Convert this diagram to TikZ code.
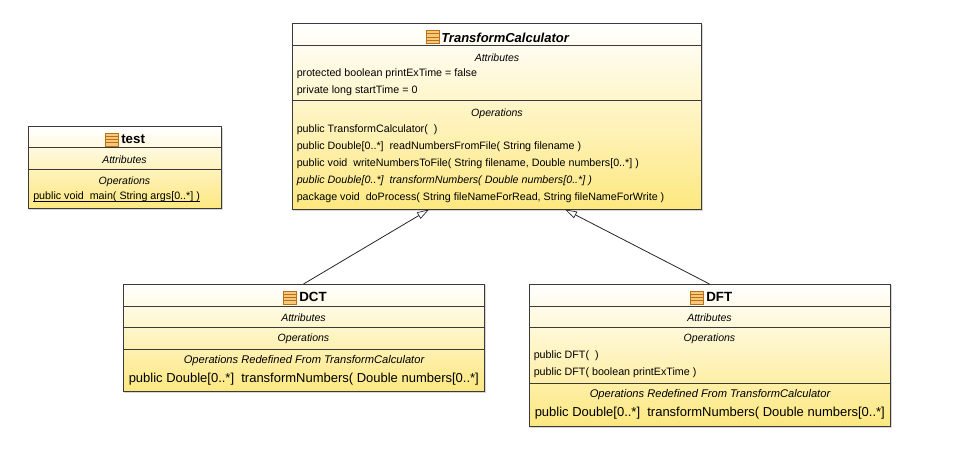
\documentclass[tikz,border=0pt]{standalone}
\usepackage{fontspec}
\setmainfont{Liberation Sans}
\usetikzlibrary{arrows.meta}
\definecolor{umlEdge}{HTML}{3A3A3A}
\definecolor{umlTop}{HTML}{FFFFFF}
\definecolor{umlBot}{HTML}{FDE880}
\definecolor{iconFill}{HTML}{F6C878}
\definecolor{iconEdge}{HTML}{B8701C}
\pgfdeclareverticalshading{umlgrad}{100bp}{color(0bp)=(umlBot); color(25bp)=(umlBot); color(75bp)=(umlTop); color(100bp)=(umlTop)}
\newcommand{\umlicon}[1]{%
  \begin{scope}[shift={(#1)}]
    \fill[iconFill] (0,0) rectangle (13,13);
    \draw[iconEdge,line width=.45pt] (0,3.3)--(13,3.3) (0,6.5)--(13,6.5) (0,9.7)--(13,9.7);
    \draw[iconEdge,line width=.7pt] (0,0) rectangle (13,13);
  \end{scope}}
\tikzset{
  x=0.75pt,y=-0.75pt,
  sep/.style={draw=umlEdge,line width=.75pt},
  shadowline/.style={draw=black!16,line width=.9pt},
  head/.style={font=\fontsize{10pt}{12pt}\selectfont\bfseries,anchor=west,inner sep=0pt},
  headi/.style={font=\fontsize{9.75pt}{12pt}\selectfont\bfseries\itshape,anchor=west,inner sep=0pt},
  comp/.style={font=\fontsize{7.9pt}{9pt}\selectfont\itshape,inner sep=0pt},
  compw/.style={font=\fontsize{8.35pt}{9pt}\selectfont\itshape,inner sep=0pt},
  item/.style={font=\fontsize{8.03pt}{9pt}\selectfont,anchor=west,inner sep=0pt},
  itemi/.style={font=\fontsize{8.03pt}{9pt}\selectfont\itshape,anchor=west,inner sep=0pt},
  big/.style={font=\fontsize{9.74pt}{11pt}\selectfont,anchor=west,inner sep=0pt},
  genarrow/.style={draw=black!85,line width=.6pt,-{Triangle[open,fill=white,length=9pt,width=5.5pt,line width=.5pt]}},
}
\newcommand{\umlpanel}[5]{% name, x0,y0,x1,y1
  \draw[shadowline] (#2+1,#5+1)--(#4+1,#5+1)--(#4+1,#3+1);
  \path[shading=umlgrad] (#2,#3) rectangle (#4,#5);
  \draw[sep] (#2,#3) rectangle (#4,#5);
  \coordinate (#1) at ({(#2+#4)/2},#3);
}
\begin{document}
\begin{tikzpicture}
\useasboundingbox (0,0) rectangle (956,456);
\fill[white] (0,0) rectangle (956,456);

% TransformCalculator
\umlpanel{tc}{292}{24}{701}{209}
\draw[sep] (292,46)--(701,46) (292,101)--(701,101);
\umlicon{426,30.5}
\node[headi] (tcname) at (441,37.5) {TransformCalculator};
\node[comp] (tcattr) at (497,58) {Attributes};
\node[item] (tca1) at (296.5,73.3) {protected boolean printExTime = false};
\node[item] (tca2) at (296.5,90.3) {private long startTime = 0};
\node[comp] (tcops) at (497,114) {Operations};
\node[item] (tco1) at (296.5,129.3) {public TransformCalculator(\ \ )};
\node[item] (tco2) at (296.5,146.3) {public Double[0..*]\ \ readNumbersFromFile( String filename )};
\node[item] (tco3) at (296.5,163.3) {public void\ \ writeNumbersToFile( String filename, Double numbers[0..*] )};
\node[itemi] (tco4) at (296.5,180.3) {public Double[0..*]\ \ transformNumbers( Double numbers[0..*] )};
\node[item] (tco5) at (296.5,197.3) {package void\ \ doProcess( String fileNameForRead, String fileNameForWrite )};
\coordinate (tcL) at (429,209.5);
\coordinate (tcR) at (565,209.5);

% test
\umlpanel{te}{28}{127}{221}{208}
\draw[sep] (28,148)--(221,148) (28,170)--(221,170);
\umlicon{105,133}
\node[head] (tename) at (121,139.5) {test};
\node[comp] (teattr) at (124.5,160) {Attributes};
\node[comp] (teops) at (124.5,182) {Operations};
\node[item] (teo1) at (33,197) {public void\ \ main( String args[0..*] )};
\draw[black,line width=.6pt] ([yshift=-.9pt]teo1.base west) -- ([yshift=-.9pt]teo1.base east);

% DCT
\umlpanel{dct}{123}{284}{484}{391}
\draw[sep] (123,306)--(484,306) (123,327)--(484,327) (123,349)--(484,349);
\umlicon{283,291}
\node[head] (dctname) at (299,297) {DCT};
\node[comp] (dctattr) at (303.5,317.5) {Attributes};
\node[comp] (dctops) at (303.5,339) {Operations};
\node[compw] (dctred) at (304,361) {Operations Redefined From TransformCalculator};
\node[big] (dcto1) at (128.5,378.8) {public Double[0..*]\ \ transformNumbers( Double numbers[0..*]};

% DFT
\umlpanel{dft}{529}{284}{890}{426}
\draw[sep] (529,306)--(890,306) (529,327)--(890,327) (529,383)--(890,383);
\umlicon{690,291}
\node[head] (dftname) at (706,297) {DFT};
\node[comp] (dftattr) at (709.5,317.5) {Attributes};
\node[comp] (dftops) at (709.5,339) {Operations};
\node[item] (dfto1) at (533.5,355.3) {public DFT(\ \ )};
\node[item] (dfto2) at (533.5,372.3) {public DFT( boolean printExTime )};
\node[compw] (dftred) at (710,395) {Operations Redefined From TransformCalculator};
\node[big] (dfto3) at (534.5,413) {public Double[0..*]\ \ transformNumbers( Double numbers[0..*]};

% connectors
\draw[genarrow] (dct) -- (tcL);
\draw[genarrow] (dft) -- (tcR);
\end{tikzpicture}
\end{document}
